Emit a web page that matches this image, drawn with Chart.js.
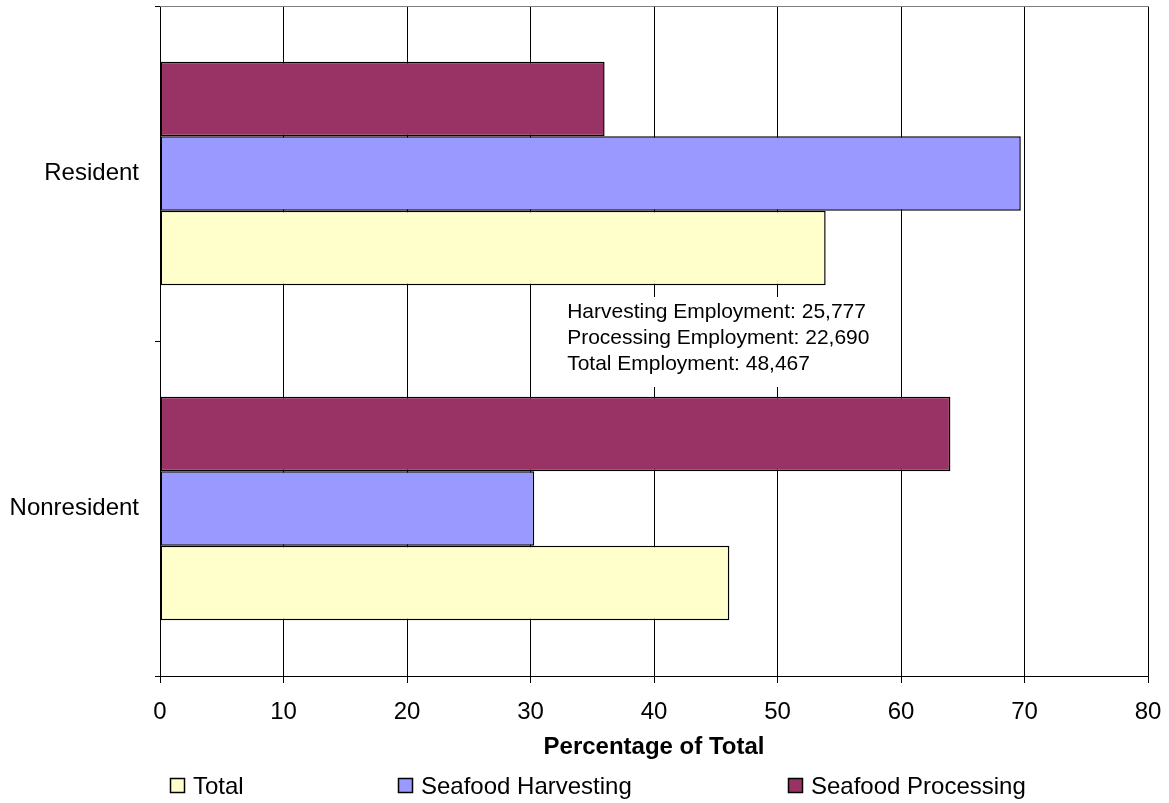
<!DOCTYPE html>
<html>
<head>
<meta charset="utf-8">
<script src="https://cdn.jsdelivr.net/npm/chart.js@4.4.0/dist/chart.umd.min.js"></script>
<style>
html,body{margin:0;padding:0;background:#fff;}
#wrap{width:1169px;height:803px;}
</style>
</head>
<body>
<div id="wrap"><canvas id="c" width="1169" height="803"></canvas></div>
<script>
// ---- data ----
const categories = ['Resident', 'Nonresident'];
const seriesNames = ['Seafood Processing', 'Seafood Harvesting', 'Total'];
const processingPct = [36.0, 64.0];
const harvestingPct = [69.7, 30.3];
const totalPct = [53.9, 46.1];
const xTickMin = 0, xTickMax = 80, xTickStep = 10;
const axisTitle = 'Percentage of Total';
const noteLines = ['Harvesting Employment: 25,777', 'Processing Employment: 22,690', 'Total Employment: 48,467'];
const seriesColors = ['#993366', '#9999FF', '#FFFFCC'];

const FONT = "'Liberation Sans', Arial, sans-serif";

const extras = {
  id: 'extras',
  afterDatasetsDraw(chart) {
    const ctx = chart.ctx;
    const a = chart.chartArea;
    ctx.save();
    // top border of plot area
    ctx.strokeStyle = '#808080';
    ctx.lineWidth = 1;
    ctx.beginPath();
    ctx.moveTo(a.left, Math.round(a.top) + 0.5);
    ctx.lineTo(a.right + 1, Math.round(a.top) + 0.5);
    ctx.stroke();
    // annotation text box
    const xs = chart.scales.x;
    const bx = xs.getPixelForValue(32.4);
    ctx.fillStyle = '#fff';
    ctx.fillRect(bx, 297, 330, 90);
    ctx.fillStyle = '#000';
    ctx.font = '21px ' + FONT;
    ctx.textBaseline = 'alphabetic';
    ctx.textAlign = 'left';
    noteLines.forEach((t, i) => ctx.fillText(t, bx + 7, 318 + i * 26));
    ctx.restore();
  },
  afterDraw(chart) {
    const ctx = chart.ctx;
    ctx.save();
    const ds = chart.data.datasets;
    const order = [2, 1, 0];
    const boxX = [170, 398, 788];
    ctx.font = '24px ' + FONT;
    ctx.textBaseline = 'middle';
    ctx.textAlign = 'left';
    order.forEach((di, k) => {
      const d = ds[di];
      ctx.fillStyle = d.backgroundColor;
      ctx.fillRect(boxX[k], 778, 15, 15);
      ctx.strokeStyle = '#000';
      ctx.lineWidth = 1.5;
      ctx.strokeRect(boxX[k] + 0.5, 778.5, 14, 14);
      ctx.fillStyle = '#000';
      ctx.fillText(d.label, boxX[k] + 23, 787);
    });
    ctx.restore();
  }
};

new Chart(document.getElementById('c'), {
  type: 'bar',
  data: {
    labels: categories,
    datasets: [
      { label: seriesNames[0], data: processingPct, backgroundColor: seriesColors[0] },
      { label: seriesNames[1], data: harvestingPct, backgroundColor: seriesColors[1] },
      { label: seriesNames[2], data: totalPct, backgroundColor: seriesColors[2] }
    ].map(d => Object.assign(d, { borderColor: '#000', borderWidth: 1.5, borderSkipped: false, categoryPercentage: 0.667, barPercentage: 1.0 }))
  },
  options: {
    indexAxis: 'y',
    responsive: false,
    animation: false,
    devicePixelRatio: 1,
    layout: { padding: { top: 6, right: 21, left: 0, bottom: 0 } },
    plugins: { legend: { display: false }, tooltip: { enabled: false } },
    scales: {
      x: {
        type: 'linear',
        position: 'bottom',
        min: xTickMin, max: xTickMax,
        ticks: { stepSize: xTickStep, color: '#000', font: { family: FONT, size: 24 }, padding: 15, maxRotation: 0 },
        grid: { color: '#000', lineWidth: 1, tickLength: 7, drawTicks: true },
        border: { color: '#000', width: 1 },
        title: { display: true, text: axisTitle, color: '#000', font: { family: FONT, size: 24, weight: 'bold' }, padding: { top: 0, bottom: 41 } },
        afterFit(s) { s.height = 127; s.paddingLeft = 0; s.paddingRight = 0; }
      },
      y: {
        type: 'category',
        ticks: { color: '#000', font: { family: FONT, size: 24 }, padding: 16 },
        grid: { drawOnChartArea: false, tickLength: 5, color: '#000', offset: true },
        border: { color: '#000', width: 1 },
        afterFit(s) { s.width = 160; s.paddingTop = 0; s.paddingBottom = 0; }
      }
    }
  },
  plugins: [extras]
});
</script>
</body>
</html>
